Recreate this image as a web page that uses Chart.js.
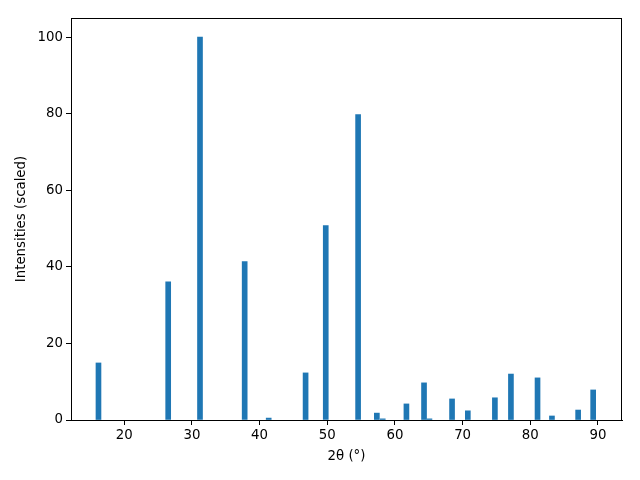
<!DOCTYPE html>
<html>
<head>
<meta charset="utf-8">
<script src="https://cdn.jsdelivr.net/npm/chart.js@4"></script>
<style>
  html, body { margin: 0; padding: 0; background: #fff; }
  canvas { display: block; }
</style>
</head>
<body>
<canvas id="c" width="640" height="480"></canvas>
<script>
// 2-theta positions (degrees) of the diffraction peaks
const twoTheta = [16.2, 26.5, 31.2, 37.8, 41.35, 46.8, 49.78, 54.56, 57.33, 58.2, 61.7, 64.3, 65.1, 68.44, 70.77, 74.77, 77.14, 81.07, 83.2, 87.07, 89.29];
// scaled intensities
const intensities = [14.9, 36.1, 100, 41.4, 0.5, 12.3, 50.8, 79.8, 1.8, 0.3, 4.2, 9.7, 0.3, 5.5, 2.4, 5.8, 12.0, 11.0, 1.05, 2.6, 7.85];
// tick labels
const xTicks = [20, 30, 40, 50, 60, 70, 80, 90];
const yTicks = [0, 20, 40, 60, 80, 100];

const points = twoTheta.map((x, i) => ({ x: x, y: intensities[i] }));

const FONT = "'DejaVu Sans', sans-serif";
const FS = 13.33;

const frame = {
  id: 'frame',
  afterDraw(chart) {
    const a = chart.chartArea, ctx = chart.ctx;
    ctx.save();
    ctx.strokeStyle = '#000';
    ctx.lineWidth = 1;
    ctx.strokeRect(Math.round(a.left) + 0.5, Math.round(a.top) + 0.5,
                   Math.round(a.right - a.left) - 1, Math.round(a.bottom - a.top));
    ctx.restore();
  }
};

new Chart(document.getElementById('c'), {
  type: 'bar',
  data: {
    datasets: [{
      data: points,
      backgroundColor: '#1f77b4',
      borderWidth: 0,
      barThickness: 5
    }]
  },
  plugins: [frame],
  options: {
    responsive: false,
    animation: false,
    devicePixelRatio: 1,
    layout: { padding: { left: 0, top: 18, right: 18, bottom: 0 } },
    plugins: { legend: { display: false }, tooltip: { enabled: false } },
    scales: {
      x: {
        type: 'linear',
        min: 12.14,
        max: 93.55,
        offset: false,
        afterBuildTicks(s) { s.ticks = xTicks.map(v => ({ value: v })); },
        afterFit(s) { s.height = 60; },
        grid: { display: true, offset: false, drawOnChartArea: false, drawTicks: true, tickLength: 5, color: '#000' },
        border: { display: true, color: '#000', width: 1 },
        ticks: { color: '#000', font: { family: FONT, size: FS }, padding: 3, maxRotation: 0 },
        title: { display: true, text: '2θ (°)', color: '#000', font: { family: FONT, size: FS }, padding: { top: 4, bottom: 15 } }
      },
      y: {
        type: 'linear',
        min: 0,
        max: 105,
        afterBuildTicks(s) { s.ticks = yTicks.map(v => ({ value: v })); },
        afterFit(s) { s.width = 71; },
        grid: { display: true, drawOnChartArea: false, drawTicks: true, tickLength: 5, color: '#000' },
        border: { display: true, color: '#000', width: 1 },
        ticks: { color: '#000', font: { family: FONT, size: FS }, padding: 3 },
        title: { display: true, text: 'Intensities (scaled)', color: '#000', font: { family: FONT, size: FS }, padding: { top: 14, bottom: 4 } }
      }
    }
  }
});
</script>
</body>
</html>
